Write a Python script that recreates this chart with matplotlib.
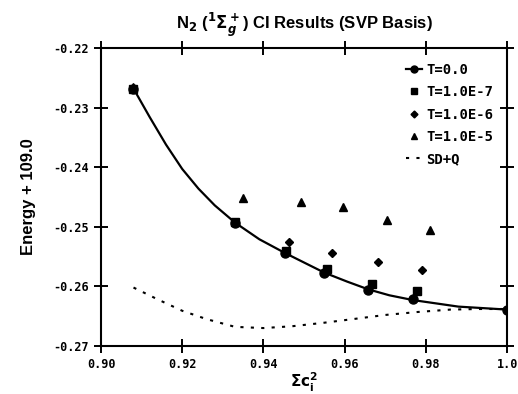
import numpy as np
import matplotlib.pyplot as plt

plt.rcParams['font.family'] = ['Liberation Sans', 'DejaVu Sans']
plt.rcParams['font.weight'] = 'bold'
plt.rcParams['xtick.direction'] = 'inout'
plt.rcParams['ytick.direction'] = 'inout'
plt.rcParams['xtick.major.size'] = 10
plt.rcParams['ytick.major.size'] = 10
plt.rcParams['xtick.major.width'] = 1.4
plt.rcParams['ytick.major.width'] = 1.4

# T=0.0 (points + positions)
x_t0 = [0.908, 0.933, 0.9453, 0.9550, 0.9658, 0.9768, 1.0]
y_t0 = [-0.2268, -0.2493, -0.2544, -0.2578, -0.2606, -0.2622, -0.2639]
x_t0_curve = [0.908, 0.912, 0.916, 0.920, 0.924, 0.928, 0.933, 0.939, 0.9453,
              0.950, 0.955, 0.9606, 0.9658, 0.971, 0.9768, 0.988, 1.0]
y_t0_curve = [-0.2268, -0.2316, -0.2362, -0.2403, -0.2436, -0.2464, -0.2493, -0.2521,
              -0.2544, -0.2560, -0.2577, -0.2592, -0.2605, -0.2615, -0.2623, -0.2634, -0.2639]

x_t7 = [0.908, 0.933, 0.9456, 0.9557, 0.9667, 0.9778]
y_t7 = [-0.2268, -0.2492, -0.2541, -0.2571, -0.2596, -0.2608]

x_t6 = [0.908, 0.933, 0.9463, 0.9569, 0.9682, 0.9791]
y_t6 = [-0.2268, -0.2492, -0.2525, -0.2544, -0.2559, -0.2572]

x_t5 = [0.908, 0.935, 0.9493, 0.9596, 0.9704, 0.9810]
y_t5 = [-0.2266, -0.2452, -0.2458, -0.2467, -0.2489, -0.2505]

x_sdq = [0.908, 0.914, 0.920, 0.926, 0.933, 0.940, 0.947, 0.955, 0.962, 0.970,
         0.978, 0.986, 0.993, 1.0]
y_sdq = [-0.2602, -0.2622, -0.2641, -0.2655, -0.2668, -0.2670, -0.2667, -0.2661, -0.2655,
         -0.2648, -0.2643, -0.2639, -0.2638, -0.2638]

xticks = [0.90, 0.92, 0.94, 0.96, 0.98, 1.0]
xtick_labels = ['0.90', '0.92', '0.94', '0.96', '0.98', '1.0']
yticks = [-0.27, -0.26, -0.25, -0.24, -0.23, -0.22]
ytick_labels = ['-0.27', '-0.26', '-0.25', '-0.24', '-0.23', '-0.22']

fig = plt.figure(figsize=(5.18, 3.94), dpi=100)
ax = fig.add_axes([0.195, 0.122, 0.784, 0.756])

dots = (0, (1.5, 3.5))
ax.plot(x_t0_curve, y_t0_curve, '-', color='black', lw=1.6)
ax.plot(x_t0, y_t0, 'o', color='black', ms=6.5)
ax.plot(x_t7, y_t7, 's', color='black', ms=6)
ax.plot(x_t6, y_t6, 'D', color='black', ms=4.2)
ax.plot(x_t5, y_t5, '^', color='black', ms=5.5)
ax.plot(x_sdq, y_sdq, linestyle=dots, color='black', lw=1.5)

# legend handles
h0, = ax.plot([], [], '-o', color='black', ms=5, lw=1.6, label='T=0.0')
h1, = ax.plot([], [], 's', color='black', ms=4.5, label='T=1.0E-7')
h2, = ax.plot([], [], 'D', color='black', ms=3.5, label='T=1.0E-6')
h3, = ax.plot([], [], '^', color='black', ms=4.5, label='T=1.0E-5')
h4, = ax.plot([], [], linestyle=dots, color='black', lw=1.5, label='SD+Q')
ax.legend(handles=[h0, h1, h2, h3, h4], loc='upper left', frameon=False,
          prop={'family': 'DejaVu Sans Mono', 'weight': 'bold', 'size': 10},
          handlelength=1.2, handletextpad=0.3, labelspacing=0.6,
          borderaxespad=0, borderpad=0, bbox_to_anchor=(0.75, 0.95))

ax.set_xlim(0.90, 1.0)
ax.set_ylim(-0.27, -0.22)
ax.set_xticks(xticks)
ax.set_xticklabels(xtick_labels)
ax.set_yticks(yticks)
ax.set_yticklabels(ytick_labels)
ax.tick_params(top=True, right=True, pad=4)
for lab in ax.get_xticklabels() + ax.get_yticklabels():
    lab.set_fontfamily('DejaVu Sans Mono')
    lab.set_fontweight('bold')
    lab.set_fontsize(8.5)
for s in ax.spines.values():
    s.set_linewidth(1.5)

ax.set_title(r'N$_2$ ($^1\Sigma_g^+$) CI Results (SVP Basis)', fontsize=12,
             fontweight='bold', pad=14)
ax.set_ylabel('Energy + 109.0', fontsize=12, fontweight='bold', labelpad=12)
ax.set_xlabel(r'$\Sigma\mathbf{c}_\mathbf{i}^\mathbf{2}$', fontsize=11)
ax.xaxis.set_label_coords(0.5, -0.085)
ax.xaxis.label.set_va('top')

fig.savefig('out.png', dpi=100)
